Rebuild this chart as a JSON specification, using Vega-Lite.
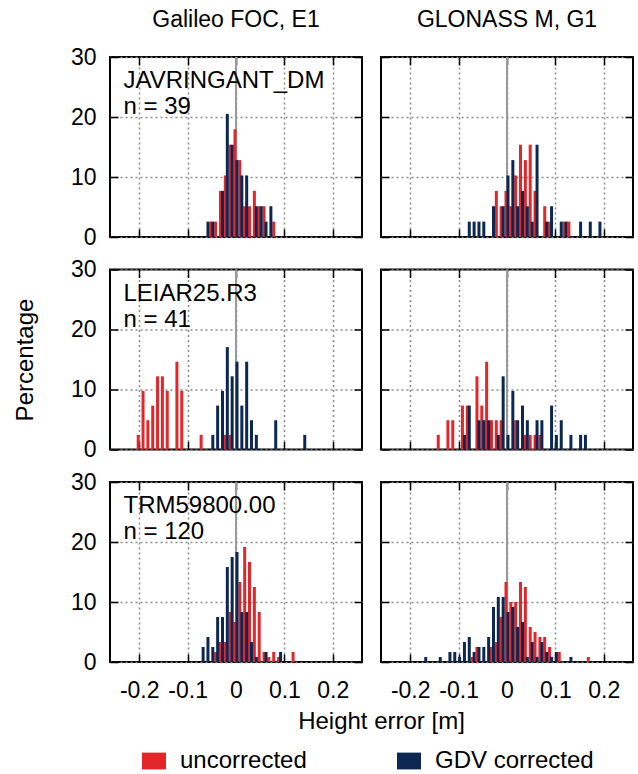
{
  "$schema": "https://vega.github.io/schema/vega-lite/v6.json",
  "padding": {"left": 12, "top": 8, "right": 5, "bottom": 5},
  "background": "white",
  "datasets": {
    "EJu": [{"e":-0.05,"p":2.56},{"e":-0.04,"p":2.56},{"e":-0.03,"p":7.69},{"e":-0.02,"p":10.26},{"e":-0.01,"p":15.38},{"e":0,"p":17.95},{"e":0.01,"p":12.82},{"e":0.02,"p":5.13},{"e":0.03,"p":5.13},{"e":0.04,"p":7.69},{"e":0.05,"p":5.13},{"e":0.06,"p":5.13},{"e":0.08,"p":2.56}],
    "EJc": [{"e":-0.06,"p":2.56},{"e":-0.05,"p":2.56},{"e":-0.03,"p":7.69},{"e":-0.02,"p":20.51},{"e":-0.01,"p":15.38},{"e":0,"p":12.82},{"e":0.01,"p":10.26},{"e":0.02,"p":10.26},{"e":0.04,"p":5.13},{"e":0.05,"p":5.13},{"e":0.06,"p":2.56},{"e":0.07,"p":5.13}],
    "RJu": [{"e":-0.02,"p":7.69},{"e":-0.01,"p":5.13},{"e":0,"p":7.69},{"e":0.01,"p":5.13},{"e":0.02,"p":10.26},{"e":0.03,"p":15.38},{"e":0.04,"p":12.82},{"e":0.05,"p":15.38},{"e":0.06,"p":7.69},{"e":0.08,"p":5.13},{"e":0.09,"p":2.56},{"e":0.12,"p":2.56},{"e":0.13,"p":2.56}],
    "RJc": [{"e":-0.08,"p":2.56},{"e":-0.07,"p":2.56},{"e":-0.06,"p":2.56},{"e":-0.05,"p":2.56},{"e":-0.03,"p":5.13},{"e":-0.01,"p":5.13},{"e":0,"p":10.26},{"e":0.01,"p":12.82},{"e":0.02,"p":5.13},{"e":0.03,"p":7.69},{"e":0.04,"p":5.13},{"e":0.05,"p":2.56},{"e":0.06,"p":15.38},{"e":0.08,"p":2.56},{"e":0.09,"p":5.13},{"e":0.11,"p":2.56},{"e":0.12,"p":2.56},{"e":0.15,"p":2.56},{"e":0.17,"p":2.56},{"e":0.19,"p":2.56}],
    "ELu": [{"e":-0.2,"p":2.44},{"e":-0.19,"p":9.76},{"e":-0.18,"p":4.88},{"e":-0.17,"p":7.32},{"e":-0.16,"p":12.2},{"e":-0.15,"p":12.2},{"e":-0.14,"p":9.76},{"e":-0.12,"p":14.63},{"e":-0.11,"p":9.76},{"e":-0.07,"p":2.44},{"e":-0.02,"p":2.44},{"e":-0.01,"p":2.44}],
    "ELc": [{"e":-0.05,"p":2.44},{"e":-0.04,"p":7.32},{"e":-0.03,"p":9.76},{"e":-0.02,"p":17.07},{"e":-0.01,"p":12.2},{"e":0,"p":14.63},{"e":0.01,"p":7.32},{"e":0.02,"p":14.63},{"e":0.03,"p":4.88},{"e":0.04,"p":2.44},{"e":0.08,"p":4.88},{"e":0.14,"p":2.44}],
    "RLu": [{"e":-0.14,"p":2.44},{"e":-0.12,"p":4.88},{"e":-0.11,"p":4.88},{"e":-0.09,"p":7.32},{"e":-0.08,"p":7.32},{"e":-0.06,"p":12.2},{"e":-0.05,"p":7.32},{"e":-0.04,"p":14.63},{"e":-0.03,"p":4.88},{"e":-0.02,"p":4.88},{"e":-0.01,"p":4.88},{"e":0.02,"p":4.88},{"e":0.04,"p":2.44},{"e":0.05,"p":2.44},{"e":0.06,"p":2.44},{"e":0.07,"p":2.44}],
    "RLc": [{"e":-0.09,"p":2.44},{"e":-0.08,"p":7.32},{"e":-0.06,"p":4.88},{"e":-0.05,"p":4.88},{"e":-0.04,"p":4.88},{"e":-0.02,"p":2.44},{"e":-0.01,"p":12.2},{"e":0,"p":2.44},{"e":0.01,"p":9.76},{"e":0.02,"p":4.88},{"e":0.03,"p":7.32},{"e":0.04,"p":4.88},{"e":0.06,"p":4.88},{"e":0.07,"p":4.88},{"e":0.09,"p":7.32},{"e":0.1,"p":2.44},{"e":0.11,"p":4.88},{"e":0.13,"p":2.44},{"e":0.15,"p":2.44},{"e":0.16,"p":2.44}],
    "ETu": [{"e":-0.04,"p":1.67},{"e":-0.03,"p":3.33},{"e":-0.02,"p":3.33},{"e":-0.01,"p":8.33},{"e":0,"p":6.67},{"e":0.01,"p":13.33},{"e":0.02,"p":19.17},{"e":0.03,"p":16.67},{"e":0.04,"p":12.5},{"e":0.05,"p":8.33},{"e":0.06,"p":1.67},{"e":0.07,"p":0.83},{"e":0.08,"p":1.67},{"e":0.09,"p":0.83},{"e":0.12,"p":1.67}],
    "ETc": [{"e":-0.07,"p":2.5},{"e":-0.06,"p":4.17},{"e":-0.05,"p":2.5},{"e":-0.04,"p":7.5},{"e":-0.03,"p":7.5},{"e":-0.02,"p":15.83},{"e":-0.01,"p":17.5},{"e":0,"p":18.33},{"e":0.01,"p":8.33},{"e":0.02,"p":8.33},{"e":0.03,"p":3.33},{"e":0.04,"p":0.83},{"e":0.06,"p":1.67},{"e":0.09,"p":1.67}],
    "RTu": [{"e":-0.07,"p":0.83},{"e":-0.06,"p":2.5},{"e":-0.03,"p":2.5},{"e":-0.02,"p":3.33},{"e":-0.01,"p":7.5},{"e":0,"p":13.33},{"e":0.01,"p":10},{"e":0.02,"p":10},{"e":0.03,"p":13.33},{"e":0.04,"p":12.5},{"e":0.05,"p":5.83},{"e":0.06,"p":5},{"e":0.07,"p":4.17},{"e":0.08,"p":4.17},{"e":0.09,"p":2.5},{"e":0.11,"p":1.67},{"e":0.17,"p":0.83}],
    "RTc": [{"e":-0.17,"p":0.83},{"e":-0.14,"p":0.83},{"e":-0.12,"p":1.67},{"e":-0.11,"p":1.67},{"e":-0.1,"p":0.83},{"e":-0.09,"p":3.33},{"e":-0.08,"p":4.17},{"e":-0.07,"p":1.67},{"e":-0.06,"p":2.5},{"e":-0.05,"p":2.5},{"e":-0.04,"p":4.17},{"e":-0.03,"p":9.17},{"e":-0.02,"p":10.83},{"e":-0.01,"p":10.83},{"e":0,"p":8.33},{"e":0.01,"p":9.17},{"e":0.02,"p":5.83},{"e":0.03,"p":6.67},{"e":0.04,"p":0.83},{"e":0.05,"p":3.33},{"e":0.06,"p":0.83},{"e":0.07,"p":3.33},{"e":0.08,"p":1.67},{"e":0.09,"p":0.83},{"e":0.1,"p":1.67},{"e":0.13,"p":0.83}]
  },
  "columns": 2,
  "bounds": "flush",
  "align": "all",
  "spacing": {"row": 32.5, "column": 19},
  "concat": [
    {
      "width": 252, "height": 180,
      "title": {"text": "Galileo FOC, E1", "offset": 14},
      "layer": [
        {"data": {"values": [{}]}, "mark": {"type": "rule", "color": "#999999", "strokeWidth": 2},
         "encoding": {"x": {"datum": 0, "type": "quantitative", "scale": {"domain": [-0.25, 0.25], "nice": false, "zero": false}, "axis": null}}},
        {"data": {"name": "EJu"}, "mark": {"type": "bar", "orient": "vertical", "width": 3, "xOffset": -1},
         "encoding": {
           "x": {"field": "e", "type": "quantitative", "scale": {"domain": [-0.25, 0.25], "nice": false, "zero": false}, "axis": {"orient": "bottom", "values": [-0.2, -0.1, 0, 0.1, 0.2], "grid": true, "labels": false, "title": null}},
           "y": {"field": "p", "type": "quantitative", "scale": {"domain": [0, 30], "nice": false}, "axis": {"orient": "left", "values": [0, 10, 20, 30], "grid": true, "labels": true, "title": null}},
           "color": {"datum": "uncorrected", "scale": {"domain": ["uncorrected", "GDV corrected"], "range": ["#E2262A", "#0C2852"]}, "legend": {"title": null}}}},
        {"data": {"name": "EJc"}, "mark": {"type": "bar", "orient": "vertical", "width": 3, "xOffset": 1},
         "encoding": {
           "x": {"field": "e", "type": "quantitative", "scale": {"domain": [-0.25, 0.25], "nice": false, "zero": false}, "axis": {"orient": "top", "values": [-0.2, -0.1, 0, 0.1, 0.2], "grid": false, "labels": false, "title": null}},
           "y": {"field": "p", "type": "quantitative", "scale": {"domain": [0, 30], "nice": false}, "axis": {"orient": "right", "values": [0, 10, 20, 30], "grid": false, "labels": false, "title": null}},
           "color": {"datum": "GDV corrected"}}},
        {"data": {"values": [{"label": "JAVRINGANT_DM\nn = 39"}]},
         "mark": {"type": "text", "align": "left", "baseline": "alphabetic", "fontSize": 24, "lineBreak": "\n", "lineHeight": 26, "color": "black"},
         "encoding": {"x": {"datum": -0.2325, "type": "quantitative", "axis": null}, "y": {"datum": 24.8, "type": "quantitative", "axis": null}, "text": {"field": "label"}}}
      ],
      "resolve": {"axis": {"x": "independent", "y": "independent"}}
    },
    {
      "width": 252, "height": 180,
      "title": {"text": "GLONASS M, G1", "offset": 24},
      "layer": [
        {"data": {"values": [{}]}, "mark": {"type": "rule", "color": "#999999", "strokeWidth": 2},
         "encoding": {"x": {"datum": 0, "type": "quantitative", "scale": {"domain": [-0.25, 0.25], "nice": false, "zero": false}, "axis": null}}},
        {"data": {"name": "RJu"}, "mark": {"type": "bar", "orient": "vertical", "width": 3, "xOffset": -1},
         "encoding": {
           "x": {"field": "e", "type": "quantitative", "scale": {"domain": [-0.25, 0.25], "nice": false, "zero": false}, "axis": {"orient": "bottom", "values": [-0.2, -0.1, 0, 0.1, 0.2], "grid": true, "labels": false, "title": null}},
           "y": {"field": "p", "type": "quantitative", "scale": {"domain": [0, 30], "nice": false}, "axis": {"orient": "left", "values": [0, 10, 20, 30], "grid": true, "labels": false, "title": null}},
           "color": {"datum": "uncorrected"}}},
        {"data": {"name": "RJc"}, "mark": {"type": "bar", "orient": "vertical", "width": 3, "xOffset": 1},
         "encoding": {
           "x": {"field": "e", "type": "quantitative", "scale": {"domain": [-0.25, 0.25], "nice": false, "zero": false}, "axis": {"orient": "top", "values": [-0.2, -0.1, 0, 0.1, 0.2], "grid": false, "labels": false, "title": null}},
           "y": {"field": "p", "type": "quantitative", "scale": {"domain": [0, 30], "nice": false}, "axis": {"orient": "right", "values": [0, 10, 20, 30], "grid": false, "labels": false, "title": null}},
           "color": {"datum": "GDV corrected"}}}
      ],
      "resolve": {"axis": {"x": "independent", "y": "independent"}}
    },
    {
      "width": 252, "height": 180,
      "layer": [
        {"data": {"values": [{}]}, "mark": {"type": "rule", "color": "#999999", "strokeWidth": 2},
         "encoding": {"x": {"datum": 0, "type": "quantitative", "scale": {"domain": [-0.25, 0.25], "nice": false, "zero": false}, "axis": null}}},
        {"data": {"name": "ELu"}, "mark": {"type": "bar", "orient": "vertical", "width": 3, "xOffset": -1},
         "encoding": {
           "x": {"field": "e", "type": "quantitative", "scale": {"domain": [-0.25, 0.25], "nice": false, "zero": false}, "axis": {"orient": "bottom", "values": [-0.2, -0.1, 0, 0.1, 0.2], "grid": true, "labels": false, "title": null}},
           "y": {"field": "p", "type": "quantitative", "scale": {"domain": [0, 30], "nice": false}, "axis": {"orient": "left", "values": [0, 10, 20, 30], "grid": true, "labels": true, "title": "Percentage"}},
           "color": {"datum": "uncorrected"}}},
        {"data": {"name": "ELc"}, "mark": {"type": "bar", "orient": "vertical", "width": 3, "xOffset": 1},
         "encoding": {
           "x": {"field": "e", "type": "quantitative", "scale": {"domain": [-0.25, 0.25], "nice": false, "zero": false}, "axis": {"orient": "top", "values": [-0.2, -0.1, 0, 0.1, 0.2], "grid": false, "labels": false, "title": null}},
           "y": {"field": "p", "type": "quantitative", "scale": {"domain": [0, 30], "nice": false}, "axis": {"orient": "right", "values": [0, 10, 20, 30], "grid": false, "labels": false, "title": null}},
           "color": {"datum": "GDV corrected"}}},
        {"data": {"values": [{"label": "LEIAR25.R3\nn = 41"}]},
         "mark": {"type": "text", "align": "left", "baseline": "alphabetic", "fontSize": 24, "lineBreak": "\n", "lineHeight": 26, "color": "black"},
         "encoding": {"x": {"datum": -0.2325, "type": "quantitative", "axis": null}, "y": {"datum": 24.8, "type": "quantitative", "axis": null}, "text": {"field": "label"}}}
      ],
      "resolve": {"axis": {"x": "independent", "y": "independent"}}
    },
    {
      "width": 252, "height": 180,
      "layer": [
        {"data": {"values": [{}]}, "mark": {"type": "rule", "color": "#999999", "strokeWidth": 2},
         "encoding": {"x": {"datum": 0, "type": "quantitative", "scale": {"domain": [-0.25, 0.25], "nice": false, "zero": false}, "axis": null}}},
        {"data": {"name": "RLu"}, "mark": {"type": "bar", "orient": "vertical", "width": 3, "xOffset": -1},
         "encoding": {
           "x": {"field": "e", "type": "quantitative", "scale": {"domain": [-0.25, 0.25], "nice": false, "zero": false}, "axis": {"orient": "bottom", "values": [-0.2, -0.1, 0, 0.1, 0.2], "grid": true, "labels": false, "title": null}},
           "y": {"field": "p", "type": "quantitative", "scale": {"domain": [0, 30], "nice": false}, "axis": {"orient": "left", "values": [0, 10, 20, 30], "grid": true, "labels": false, "title": null}},
           "color": {"datum": "uncorrected"}}},
        {"data": {"name": "RLc"}, "mark": {"type": "bar", "orient": "vertical", "width": 3, "xOffset": 1},
         "encoding": {
           "x": {"field": "e", "type": "quantitative", "scale": {"domain": [-0.25, 0.25], "nice": false, "zero": false}, "axis": {"orient": "top", "values": [-0.2, -0.1, 0, 0.1, 0.2], "grid": false, "labels": false, "title": null}},
           "y": {"field": "p", "type": "quantitative", "scale": {"domain": [0, 30], "nice": false}, "axis": {"orient": "right", "values": [0, 10, 20, 30], "grid": false, "labels": false, "title": null}},
           "color": {"datum": "GDV corrected"}}}
      ],
      "resolve": {"axis": {"x": "independent", "y": "independent"}}
    },
    {
      "width": 252, "height": 180,
      "layer": [
        {"data": {"values": [{}]}, "mark": {"type": "rule", "color": "#999999", "strokeWidth": 2},
         "encoding": {"x": {"datum": 0, "type": "quantitative", "scale": {"domain": [-0.25, 0.25], "nice": false, "zero": false}, "axis": null}}},
        {"data": {"name": "ETu"}, "mark": {"type": "bar", "orient": "vertical", "width": 3, "xOffset": -1},
         "encoding": {
           "x": {"field": "e", "type": "quantitative", "scale": {"domain": [-0.25, 0.25], "nice": false, "zero": false}, "axis": {"orient": "bottom", "values": [-0.2, -0.1, 0, 0.1, 0.2], "grid": true, "labels": true, "labelExpr": "datum.value < 0 ? '-' + format(-datum.value, '.1f') : (datum.value == 0 ? '0' : format(datum.value, '.1f'))", "title": "Height error [m]", "titleX": 271, "titlePadding": 7}},
           "y": {"field": "p", "type": "quantitative", "scale": {"domain": [0, 30], "nice": false}, "axis": {"orient": "left", "values": [0, 10, 20, 30], "grid": true, "labels": true, "title": null}},
           "color": {"datum": "uncorrected"}}},
        {"data": {"name": "ETc"}, "mark": {"type": "bar", "orient": "vertical", "width": 3, "xOffset": 1},
         "encoding": {
           "x": {"field": "e", "type": "quantitative", "scale": {"domain": [-0.25, 0.25], "nice": false, "zero": false}, "axis": {"orient": "top", "values": [-0.2, -0.1, 0, 0.1, 0.2], "grid": false, "labels": false, "title": null}},
           "y": {"field": "p", "type": "quantitative", "scale": {"domain": [0, 30], "nice": false}, "axis": {"orient": "right", "values": [0, 10, 20, 30], "grid": false, "labels": false, "title": null}},
           "color": {"datum": "GDV corrected"}}},
        {"data": {"values": [{"label": "TRM59800.00\nn = 120"}]},
         "mark": {"type": "text", "align": "left", "baseline": "alphabetic", "fontSize": 24, "lineBreak": "\n", "lineHeight": 26, "color": "black"},
         "encoding": {"x": {"datum": -0.2325, "type": "quantitative", "axis": null}, "y": {"datum": 24.8, "type": "quantitative", "axis": null}, "text": {"field": "label"}}}
      ],
      "resolve": {"axis": {"x": "independent", "y": "independent"}}
    },
    {
      "width": 252, "height": 180,
      "layer": [
        {"data": {"values": [{}]}, "mark": {"type": "rule", "color": "#999999", "strokeWidth": 2},
         "encoding": {"x": {"datum": 0, "type": "quantitative", "scale": {"domain": [-0.25, 0.25], "nice": false, "zero": false}, "axis": null}}},
        {"data": {"name": "RTu"}, "mark": {"type": "bar", "orient": "vertical", "width": 3, "xOffset": -1},
         "encoding": {
           "x": {"field": "e", "type": "quantitative", "scale": {"domain": [-0.25, 0.25], "nice": false, "zero": false}, "axis": {"orient": "bottom", "values": [-0.2, -0.1, 0, 0.1, 0.2], "grid": true, "labels": true, "labelExpr": "datum.value < 0 ? '-' + format(-datum.value, '.1f') : (datum.value == 0 ? '0' : format(datum.value, '.1f'))", "title": null}},
           "y": {"field": "p", "type": "quantitative", "scale": {"domain": [0, 30], "nice": false}, "axis": {"orient": "left", "values": [0, 10, 20, 30], "grid": true, "labels": false, "title": null}},
           "color": {"datum": "uncorrected"}}},
        {"data": {"name": "RTc"}, "mark": {"type": "bar", "orient": "vertical", "width": 3, "xOffset": 1},
         "encoding": {
           "x": {"field": "e", "type": "quantitative", "scale": {"domain": [-0.25, 0.25], "nice": false, "zero": false}, "axis": {"orient": "top", "values": [-0.2, -0.1, 0, 0.1, 0.2], "grid": false, "labels": false, "title": null}},
           "y": {"field": "p", "type": "quantitative", "scale": {"domain": [0, 30], "nice": false}, "axis": {"orient": "right", "values": [0, 10, 20, 30], "grid": false, "labels": false, "title": null}},
           "color": {"datum": "GDV corrected"}}}
      ],
      "resolve": {"axis": {"x": "independent", "y": "independent"}}
    }
  ],
  "config": {
    "font": "Liberation Sans",
    "view": {"stroke": "black", "strokeWidth": 2},
    "axis": {"domain": false, "tickColor": "black", "tickWidth": 1.5, "tickSize": -8, "labelFontSize": 23, "labelColor": "black", "titleFontSize": 24, "titleFontWeight": "normal", "titleColor": "black", "gridDash": [2, 3], "gridColor": "#8a8a8a", "gridWidth": 1.5, "gridOpacity": 1},
    "axisX": {"labelPadding": 25},
    "axisY": {"labelPadding": 22, "titlePadding": 33},
    "title": {"fontSize": 23, "fontWeight": "normal", "color": "black"},
    "legend": {"orient": "none", "legendX": 32, "legendY": 692, "direction": "horizontal", "labelFontSize": 24, "labelColor": "black", "symbolType": "M-1,-0.7H1V0.7H-1Z", "symbolSize": 576, "symbolStrokeWidth": 0, "symbolOpacity": 1, "columnPadding": 90, "labelOffset": 14}
  }
}
